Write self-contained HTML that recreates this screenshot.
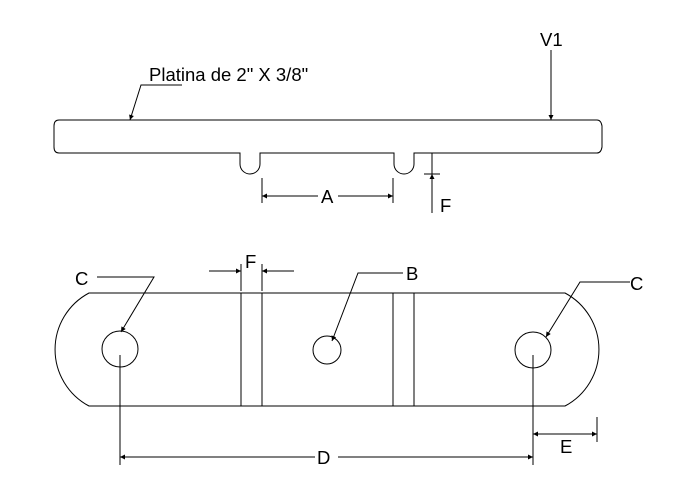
<!DOCTYPE html>
<html><head><meta charset="utf-8"><style>
body{margin:0;background:#fff}
svg{display:block}
text{font-family:"Liberation Sans",sans-serif;font-size:18.5px;fill:#000}
</style></head><body>
<svg width="700" height="494" viewBox="0 0 700 494" xmlns="http://www.w3.org/2000/svg">
<defs>
<marker id="a" viewBox="0 0 10 10" refX="10" refY="5" markerWidth="9" markerHeight="5" orient="auto-start-reverse" markerUnits="userSpaceOnUse"><path d="M0,0 L10,5 L0,10 z" fill="#000"/></marker>
</defs>
<g fill="none" stroke="#000" stroke-width="1">
<path d="M59,120 L597,120 Q601,120 602,126 L602,147 Q601,153 597,153 L414,153 L414,164 A10,10 0 0 1 394,164 L394,153 L260,153 L260,164 A10,10 0 0 1 240,164 L240,153 L59,153 Q54,153 54,147 L54,126 Q54,120 59,120 Z"/>
<path d="M182,85 L141,85 L130,120" marker-end="url(#a)"/>
<line x1="551" y1="50" x2="551" y2="120" marker-end="url(#a)"/>
<line x1="262" y1="178" x2="262" y2="203"/>
<line x1="393" y1="178" x2="393" y2="203"/>
<line x1="262" y1="196" x2="318" y2="196" marker-start="url(#a)"/>
<line x1="338" y1="196" x2="393" y2="196" marker-end="url(#a)"/>
<line x1="432" y1="153" x2="432" y2="213"/>
<line x1="424" y1="174" x2="440" y2="174"/>
<line x1="432" y1="186" x2="432" y2="174" marker-end="url(#a)"/>
<path d="M89,293 L565,293 A64,64 0 0 1 565,406 L89,406 A64,64 0 0 1 89,293 Z"/>
<line x1="241" y1="293" x2="241" y2="406"/>
<line x1="262" y1="293" x2="262" y2="406"/>
<line x1="393" y1="293" x2="393" y2="406"/>
<line x1="414" y1="293" x2="414" y2="406"/>
<circle cx="120" cy="349" r="18"/>
<circle cx="327" cy="350" r="14"/>
<circle cx="533" cy="350" r="18"/>
<path d="M97,277 L154,277 L121,332" marker-end="url(#a)"/>
<line x1="241" y1="264" x2="241" y2="291"/>
<line x1="262" y1="264" x2="262" y2="291"/>
<line x1="209" y1="271" x2="241" y2="271" marker-end="url(#a)"/>
<line x1="294" y1="271" x2="262" y2="271" marker-end="url(#a)"/>
<path d="M403,273 L358,273 L332,341" marker-end="url(#a)"/>
<path d="M630,282 L580,282 L546,337" marker-end="url(#a)"/>
<line x1="120" y1="355" x2="120" y2="465"/>
<line x1="533" y1="355" x2="533" y2="465"/>
<line x1="120" y1="457" x2="315" y2="457" marker-start="url(#a)"/>
<line x1="338" y1="457" x2="533" y2="457" marker-end="url(#a)"/>
<line x1="597" y1="417" x2="597" y2="442"/>
<line x1="533" y1="434" x2="597" y2="434" marker-start="url(#a)" marker-end="url(#a)"/>
</g>
<text x="149" y="81">Platina de 2" X 3/8"</text>
<text x="540" y="46">V1</text>
<text x="321" y="203">A</text>
<text x="440" y="212">F</text>
<text x="75" y="285">C</text>
<text x="245" y="268">F</text>
<text x="406" y="280">B</text>
<text x="630" y="290">C</text>
<text x="317" y="464">D</text>
<text x="560" y="453">E</text>
</svg>
</body></html>
